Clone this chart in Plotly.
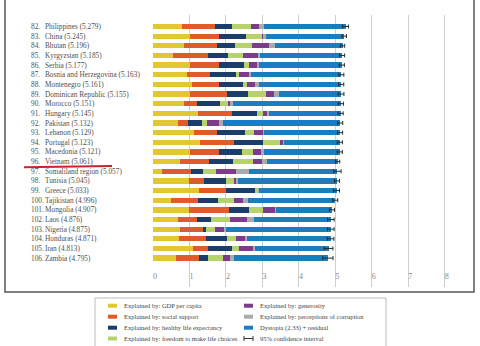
import plotly.graph_objects as go

ranks = [82, 83, 84, 85, 86, 87, 88, 89, 90, 91, 92, 93, 94, 95, 96, 97, 98, 99, 100, 101, 102, 103, 104, 105, 106]
countries = ["Philippines", "China", "Bhutan", "Kyrgyzstan", "Serbia", "Bosnia and Herzegovina",
             "Montenegro", "Dominican Republic", "Morocco", "Hungary", "Pakistan", "Lebanon",
             "Portugal", "Macedonia", "Vietnam", "Somaliland region", "Tunisia", "Greece",
             "Tajikistan", "Mongolia", "Laos", "Nigeria", "Honduras", "Iran", "Zambia"]
scores = [5.279, 5.245, 5.196, 5.185, 5.177, 5.163, 5.161, 5.155, 5.151, 5.145, 5.132, 5.129,
          5.123, 5.121, 5.061, 5.057, 5.045, 5.033, 4.996, 4.907, 4.876, 4.875, 4.871, 4.813, 4.795]

gdp = [0.80, 1.02, 0.84, 0.55, 1.02, 0.93, 1.06, 1.02, 0.84, 1.23, 0.68, 1.12, 1.28,
       1.02, 0.73, 0.26, 0.99, 1.26, 0.50, 0.99, 0.68, 0.73, 0.71, 1.11, 0.62]
social = [0.89, 0.80, 0.91, 0.97, 0.80, 0.64, 0.75, 1.00, 0.37, 0.94, 0.27, 0.64, 0.94,
          0.79, 0.80, 0.77, 0.40, 0.73, 0.73, 1.10, 0.52, 0.66, 0.73, 0.39, 0.64]
health = [0.47, 0.73, 0.51, 0.55, 0.68, 0.71, 0.66, 0.58, 0.62, 0.68, 0.38, 0.76, 0.79,
          0.64, 0.66, 0.33, 0.60, 0.81, 0.55, 0.55, 0.39, 0.05, 0.58, 0.66, 0.25]
freedom = [0.53, 0.44, 0.46, 0.40, 0.13, 0.09, 0.11, 0.50, 0.23, 0.16, 0.14, 0.26, 0.46,
           0.29, 0.55, 0.38, 0.25, 0.09, 0.43, 0.37, 0.53, 0.26, 0.26, 0.21, 0.41]
generosity = [0.23, 0.05, 0.47, 0.41, 0.23, 0.27, 0.21, 0.23, 0.06, 0.13, 0.35, 0.25, 0.11,
              0.24, 0.26, 0.53, 0.05, 0.01, 0.27, 0.34, 0.45, 0.26, 0.23, 0.38, 0.20]
corruption = [0.11, 0.05, 0.16, 0.06, 0.05, 0.04, 0.12, 0.12, 0.07, 0.04, 0.11, 0.02, 0.02,
              0.05, 0.13, 0.35, 0.05, 0.02, 0.12, 0.03, 0.21, 0.05, 0.06, 0.05, 0.09]
ci = [0.08, 0.06, 0.06, 0.07, 0.07, 0.07, 0.07, 0.08, 0.07, 0.07, 0.07, 0.07, 0.07,
      0.07, 0.06, 0.10, 0.07, 0.08, 0.07, 0.07, 0.09, 0.09, 0.09, 0.12, 0.14]

dystopia = [round(s - (a + b + c + d + e + f), 3) for s, a, b, c, d, e, f in
            zip(scores, gdp, social, health, freedom, generosity, corruption)]

series_names = ["Explained by: GDP per capita", "Explained by: social support",
                "Explained by: healthy life expectancy", "Explained by: freedom to make life choices",
                "Explained by: generosity", "Explained by: perceptions of corruption",
                "Dystopia (2.33) + residual"]
colors = ["#E2C730", "#E05A2B", "#1B3D6A", "#B6D26A", "#7D3C8A", "#A9AAAE", "#1C7DBE"]
series = [gdp, social, health, freedom, generosity, corruption, dystopia]
ticks = [0, 1, 2, 3, 4, 5, 6, 7, 8]

ypos = list(range(len(countries)))

fig = go.Figure()
for name, vals, col in zip(series_names, series, colors):
    fig.add_trace(go.Bar(x=vals, y=ypos, orientation="h", name=name, marker_color=col,
                         marker_line_width=0, width=0.55, showlegend=False))
fig.add_trace(go.Scatter(x=scores, y=ypos, mode="markers", marker=dict(size=1, color="rgba(0,0,0,0)"),
                         error_x=dict(type="data", array=ci, color="#2a2a2a", thickness=1, width=2),
                         showlegend=False, hoverinfo="skip"))

L, R, T, B = 153, 17, 15, 59
W, H = 480, 346
pw, ph = W - L - R, H - T - B
ROW0, ROWSTEP = 26.5, 9.65


def px(x):
    return (x - L) / pw


def py(y):
    return (H - B - y) / ph


serif = "Liberation Serif"
txtcol = "#505050"
annos = []
for i, (r, c, s) in enumerate(zip(ranks, countries, scores)):
    annos.append(dict(x=px(29), y=i, xref="paper", yref="y", text=f"{r}.", showarrow=False,
                      xanchor="left", yanchor="middle", font=dict(family=serif, size=7.3, color=txtcol)))
    annos.append(dict(x=px(43), y=i, xref="paper", yref="y", text=f"{c} ({s:.3f})", showarrow=False,
                      xanchor="left", yanchor="middle", font=dict(family=serif, size=7.3, color=txtcol)))

shapes = []
# outer frame
shapes.append(dict(type="rect", xref="paper", yref="paper", x0=px(5), x1=px(474), y0=py(292), y1=py(-5),
                   line=dict(color="#555", width=1.5)))
# red underline
shapes.append(dict(type="line", xref="paper", yref="paper", x0=px(24), x1=px(112), y0=py(167.3), y1=py(166),
                   line=dict(color="#C8242B", width=2)))
# legend box
shapes.append(dict(type="rect", xref="paper", yref="paper", x0=px(95), x1=px(386), y0=py(298), y1=py(352),
                   line=dict(color="#bbb", width=1)))

leg_rows = [305.7, 316.7, 327.7, 338.5]
leg_items = [(series_names[k], colors[k]) for k in range(7)] + [("95% confidence interval", None)]
for k, (name, col) in enumerate(leg_items):
    colx = 108 if k < 4 else 244
    yy = leg_rows[k % 4]
    if col is not None:
        shapes.append(dict(type="rect", xref="paper", yref="paper", x0=px(colx), x1=px(colx + 9),
                           y0=py(yy + 2), y1=py(yy - 2), fillcolor=col, line=dict(width=0)))
    else:
        shapes.append(dict(type="line", xref="paper", yref="paper", x0=px(colx), x1=px(colx + 9),
                           y0=py(yy), y1=py(yy), line=dict(color="#333", width=1)))
        for xx in (colx, colx + 9):
            shapes.append(dict(type="line", xref="paper", yref="paper", x0=px(xx), x1=px(xx),
                               y0=py(yy - 2.5), y1=py(yy + 2.5), line=dict(color="#333", width=1)))
    annos.append(dict(x=px(colx + 14), y=py(yy), xref="paper", yref="paper", text=name, showarrow=False,
                      xanchor="left", yanchor="middle", font=dict(family=serif, size=6.5, color="#444")))

fig.update_layout(
    width=W, height=H, margin=dict(l=L, r=R, t=T, b=B),
    paper_bgcolor="white", plot_bgcolor="white",
    barmode="stack", bargap=0,
    xaxis=dict(range=[0, 8.5], tickvals=ticks, ticktext=[str(t) for t in ticks],
               showgrid=True, gridcolor="#cfcfcf", gridwidth=1, zeroline=False,
               ticklabelposition="inside right", ticks="", showline=False,
               tickfont=dict(family=serif, size=8, color="#888"), fixedrange=True),
    yaxis=dict(range=[(H - B - ROW0) / ROWSTEP, (T - ROW0) / ROWSTEP], showgrid=False, zeroline=False,
               showticklabels=False, ticks="", showline=False, fixedrange=True),
    annotations=annos, shapes=shapes, showlegend=False,
)

fig.write_html("out.html")
